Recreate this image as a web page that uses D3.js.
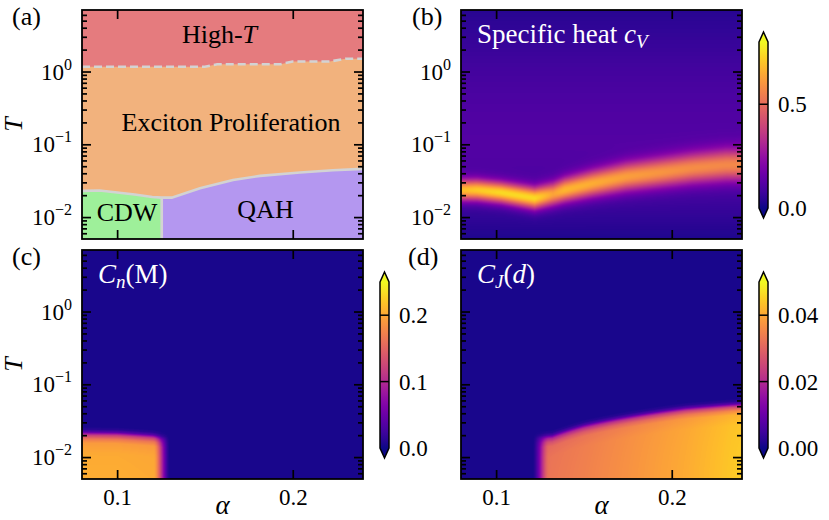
<!DOCTYPE html>
<html><head><meta charset="utf-8">
<script src="https://cdn.jsdelivr.net/npm/d3@7"></script>
<style>
body{margin:0;background:#fff}
svg{display:block}
text{font-family:"Liberation Serif","Times New Roman",serif}
</style>
</head><body>
<svg id="fig" width="829" height="520"></svg>
<script>
// ---------------- data ----------------
const alphaDomain = [0.08, 0.24];
const TDomain = [0.005, 7];
const alphaTicks = [0.1, 0.2];
const TMajorTicks = [0.01, 0.1, 1];
const TMajorExp = ["\u22122", "\u22121", "0"];

// (a) phase boundaries
const highTAlpha = [0.08, 0.150, 0.157, 0.193, 0.200, 0.221, 0.230, 0.24];
const highTT     = [1.16, 1.16, 1.26, 1.26, 1.37, 1.37, 1.50, 1.50];
const cdwAlpha = [0.08, 0.09, 0.10, 0.11, 0.12, 0.1254];
const cdwT     = [0.0229, 0.0232, 0.0218, 0.0204, 0.0189, 0.0185];
const qahAlpha = [0.1254, 0.1311, 0.1472, 0.166, 0.1814, 0.2041, 0.2229, 0.24];
const qahT     = [0.0185, 0.0185, 0.0249, 0.0324, 0.0368, 0.0409, 0.0441, 0.0459];
const alphaC = 0.1254;

// (b) specific heat: ridge position, ridge height, ridge width (decades), background vs log T
const cvAlpha = [0.08, 0.089, 0.103, 0.122, 0.1324, 0.139, 0.155, 0.174, 0.193, 0.212, 0.231, 0.24];
const cvPeakT = [0.0234, 0.0234, 0.0216, 0.0181, 0.0206, 0.0234, 0.0288, 0.0357, 0.0409, 0.0470, 0.0517, 0.0520];
const cvPeak  = [0.68, 0.71, 0.74, 0.74, 0.63, 0.67, 0.65, 0.62, 0.60, 0.58, 0.57, 0.57];
const cvWidth = [0.10, 0.10, 0.10, 0.105, 0.11, 0.115, 0.125, 0.135, 0.14, 0.145, 0.15, 0.15];
const cvBgLogT = [-2.31, -2.0, -1.5, -1.0, -0.5, 0.0, 0.5, 0.85];
const cvBg     = [0.02, 0.05, 0.10, 0.115, 0.105, 0.085, 0.055, 0.035];

// (c) C_n(M): CDW order, vanishing at cnTc
const cnAlpha = [0.08, 0.10, 0.12, 0.1254];
const cnTc    = [0.0222, 0.0219, 0.0203, 0.0193];
const cnAmp   = [0.202, 0.202, 0.20, 0.20];
const cnBase  = 0.004;

// (d) C_J(d): QAH order, vanishing at cjTc
const cjAlpha = [0.1254, 0.132, 0.15, 0.17, 0.208, 0.234, 0.24];
const cjTc    = [0.0196, 0.0201, 0.0278, 0.0348, 0.0478, 0.0535, 0.0543];
const cjAmp   = [0.031, 0.0325, 0.034, 0.036, 0.040, 0.0435, 0.044];
const cjBase  = 0.0008;

// order-parameter fall-off versus T/Tc
const orderR = [0, 0.5, 0.7, 0.8, 0.9, 0.95, 1.0, 1.08, 1.18];
const orderF = [1, 0.98, 0.93, 0.80, 0.57, 0.38, 0.17, 0.04, 0];
const edgeBlur = 0.0048;

// colorbars
const cbB = {vmax: 0.8, ticks: [0, 0.5], labels: ["0.0", "0.5"]};
const cbC = {vmax: 0.25, ticks: [0, 0.1, 0.2], labels: ["0.0", "0.1", "0.2"]};
const cbD = {vmax: 0.05, ticks: [0, 0.02, 0.04], labels: ["0.00", "0.02", "0.04"]};

// ---------------- helpers ----------------
function interp(xs, ys, v) {
  const n = xs.length;
  if (v <= xs[0]) return ys[0];
  if (v >= xs[n - 1]) return ys[n - 1];
  const i = Math.min(n - 2, d3.bisectRight(xs, v) - 1);
  const t = (v - xs[i]) / (xs[i + 1] - xs[i]);
  return ys[i] + t * (ys[i + 1] - ys[i]);
}
function smooth(t) { t = Math.max(0, Math.min(1, t)); return t * t * (3 - 2 * t); }
const L10 = a => a.map(Math.log10);
const cvPeakLT = L10(cvPeakT);

function cvValue(a, lt) {
  const lp = interp(cvAlpha, cvPeakLT, a);
  const sg = interp(cvAlpha, cvWidth, a);
  const bg = interp(cvBgLogT, cvBg, lt);
  const amp = interp(cvAlpha, cvPeak, a) - interp(cvBgLogT, cvBg, lp);
  return bg + amp * Math.exp(-0.5 * ((lt - lp) / sg) ** 2);
}
function profile(r) { return interp(orderR, orderF, r); }
function cnValue(a, lt) {
  const tc = interp(cnAlpha, cnTc, a), amp = interp(cnAlpha, cnAmp, a);
  const w = 1 - smooth((a - (alphaC - edgeBlur)) / (2 * edgeBlur));
  return cnBase + amp * profile(Math.pow(10, lt) / tc) * w;
}
function cjValue(a, lt) {
  const tc = interp(cjAlpha, cjTc, a), amp = interp(cjAlpha, cjAmp, a);
  const w = smooth((a - (alphaC - edgeBlur)) / (2 * edgeBlur));
  return cjBase + amp * profile(Math.pow(10, lt) / tc) * w;
}

// ---------------- layout ----------------
const svg = d3.select("#fig");
const FONT = '"Liberation Serif","Times New Roman",serif';
const layout = {
  a: [82, 363, 10, 239], b: [461, 742, 10, 239],
  c: [82, 363, 250, 479], d: [461, 742, 250, 479]
};
function scales(k) {
  const [x0, x1, y0, y1] = layout[k];
  return {
    x: d3.scaleLinear().domain(alphaDomain).range([x0, x1]),
    y: d3.scaleLog().domain(TDomain).range([y1, y0]),
    box: layout[k]
  };
}
const minorTicks = [];
for (let k = -3; k <= 0; k++) for (let m = 2; m <= 9; m++) {
  const v = m * Math.pow(10, k);
  if (v > TDomain[0] * 1.001 && v < TDomain[1] * 0.999) minorTicks.push(v);
}

function heat(k, fn, vmax) {
  const {x, y, box} = scales(k);
  const [x0, x1, y0, y1] = box;
  const w = Math.round(x1 - x0), h = Math.round(y1 - y0);
  const cv = document.createElement("canvas");
  cv.width = w; cv.height = h;
  const ctx = cv.getContext("2d");
  const img = ctx.createImageData(w, h);
  for (let j = 0; j < h; j++) {
    const lt = Math.log10(y.invert(y0 + j + 0.5));
    for (let i = 0; i < w; i++) {
      const a = x.invert(x0 + i + 0.5);
      const v = fn(a, lt);
      const c = d3.rgb(d3.interpolatePlasma(Math.max(0, Math.min(1, v / vmax))));
      const p = 4 * (j * w + i);
      img.data[p] = c.r; img.data[p + 1] = c.g; img.data[p + 2] = c.b; img.data[p + 3] = 255;
    }
  }
  ctx.putImageData(img, 0, 0);
  svg.append("image").attr("x", x0).attr("y", y0).attr("width", x1 - x0).attr("height", y1 - y0)
    .attr("preserveAspectRatio", "none").attr("href", cv.toDataURL());
}

function axes(k, showX, showYLabel, showYTicks) {
  const {x, y, box} = scales(k);
  const [x0, x1, y0, y1] = box;
  const g = svg.append("g");
  const mk = (axis, tr) => {
    const a = g.append("g").attr("transform", tr).call(axis);
    a.select(".domain").remove();
    a.selectAll(".tick line").attr("stroke", "#000").attr("stroke-width", 1.7);
    a.selectAll("text").attr("font-family", FONT).attr("font-size", 23).attr("fill", "#000");
    a.attr("font-family", FONT);
    return a;
  };
  mk(d3.axisBottom(x).tickValues(alphaTicks).tickSize(-9).tickPadding(10)
      .tickFormat(showX ? d3.format(".1f") : () => ""), `translate(0,${y1})`);
  mk(d3.axisTop(x).tickValues(alphaTicks).tickSize(-9).tickFormat(() => ""), `translate(0,${y0})`);
  mk(d3.axisLeft(y).tickValues(TMajorTicks).tickSize(-9).tickFormat(() => ""), `translate(${x0},0)`);
  mk(d3.axisLeft(y).tickValues(minorTicks).tickSize(-5).tickFormat(() => ""), `translate(${x0},0)`);
  mk(d3.axisRight(y).tickValues(TMajorTicks).tickSize(-9).tickFormat(() => ""), `translate(${x1},0)`);
  mk(d3.axisRight(y).tickValues(minorTicks).tickSize(-5).tickFormat(() => ""), `translate(${x1},0)`);
  if (showYTicks) {
    TMajorTicks.forEach((v, i) => {
      const t = g.append("text").attr("x", x0 - 10).attr("y", y(v) + 8)
        .attr("text-anchor", "end").attr("font-size", 23).attr("font-family", FONT);
      t.append("tspan").text("10");
      t.append("tspan").attr("dy", -10).attr("font-size", 16).text(TMajorExp[i]);
    });
  }
  g.append("rect").attr("x", x0).attr("y", y0).attr("width", x1 - x0).attr("height", y1 - y0)
    .attr("fill", "none").attr("stroke", "#000").attr("stroke-width", 1.8);
  if (showYLabel) {
    g.append("text").attr("transform", `translate(22,${(y0 + y1) / 2}) rotate(-90)`)
      .attr("text-anchor", "middle").attr("font-size", 26).attr("font-style", "italic")
      .attr("font-family", FONT).text("T");
  }
  if (showX) {
    g.append("text").attr("x", (x0 + x1) / 2).attr("y", 514).attr("text-anchor", "middle")
      .attr("font-size", 27).attr("font-style", "italic").attr("font-family", FONT).text("\u03b1");
  }
}

let gradN = 0;
function colorbar(k, cb) {
  const [x0, x1, y0, y1] = layout[k];
  const bx = x1 + 17, bw = 9, top = y0 + 32, bottom = y1 - 31, tri = 10;
  const s = d3.scaleLinear().domain([0, cb.vmax]).range([bottom, top]);
  const id = "grad" + (gradN++);
  const lg = svg.append("defs").append("linearGradient").attr("id", id)
    .attr("x1", 0).attr("y1", 1).attr("x2", 0).attr("y2", 0);
  d3.range(0, 1.0001, 0.05).forEach(t => lg.append("stop").attr("offset", t).attr("stop-color", d3.interpolatePlasma(t)));
  svg.append("rect").attr("x", bx).attr("y", top).attr("width", bw).attr("height", bottom - top).attr("fill", `url(#${id})`);
  svg.append("path").attr("d", `M${bx},${top}L${bx + bw / 2},${top - tri}L${bx + bw},${top}Z`).attr("fill", d3.interpolatePlasma(1));
  svg.append("path").attr("d", `M${bx},${bottom}L${bx + bw / 2},${bottom + tri}L${bx + bw},${bottom}Z`).attr("fill", d3.interpolatePlasma(0));
  cb.ticks.forEach((t, i) => {
    if (t > 0) svg.append("line").attr("x1", bx).attr("x2", bx + bw).attr("y1", s(t)).attr("y2", s(t))
      .attr("stroke", "#000").attr("stroke-width", 1.5);
    svg.append("text").attr("x", bx + bw + 10).attr("y", s(t) + 8).attr("font-size", 23)
      .attr("font-family", FONT).text(cb.labels[i]);
  });
  svg.append("path").attr("d",
    `M${bx},${top}L${bx + bw / 2},${top - tri}L${bx + bw},${top}L${bx + bw},${bottom}L${bx + bw / 2},${bottom + tri}L${bx},${bottom}Z`)
    .attr("fill", "none").attr("stroke", "#000").attr("stroke-width", 1.5);
}

// ---------------- panel (a) ----------------
(function () {
  const {x, y, box} = scales("a");
  const [x0, x1, y0, y1] = box;
  svg.append("rect").attr("x", x0).attr("y", y0).attr("width", x1 - x0).attr("height", y1 - y0).attr("fill", "#f2b27d");
  const hi = highTAlpha.map((a, i) => [a, highTT[i]]);
  const cdw = cdwAlpha.map((a, i) => [a, cdwT[i]]);
  const qah = qahAlpha.map((a, i) => [a, qahT[i]]);
  const areaTop = d3.area().x(d => x(d[0])).y0(y(TDomain[1])).y1(d => y(d[1]));
  const areaBot = d3.area().x(d => x(d[0])).y0(y(TDomain[0])).y1(d => y(d[1]));
  svg.append("path").datum(hi).attr("d", areaTop).attr("fill", "#e57b7e");
  svg.append("path").datum(cdw).attr("d", areaBot).attr("fill", "#9ef09a");
  svg.append("path").datum(qah).attr("d", areaBot).attr("fill", "#b497f0");
  const line = d3.line().x(d => x(d[0])).y(d => y(d[1]));
  svg.append("path").datum(cdw.concat(qah.slice(1))).attr("d", line)
    .attr("fill", "none").attr("stroke", "#d3d3d3").attr("stroke-width", 2.6);
  svg.append("path").datum([[alphaC, TDomain[0]], [alphaC, cdwT[cdwT.length - 1]]]).attr("d", line)
    .attr("fill", "none").attr("stroke", "#d3d3d3").attr("stroke-width", 2.6);
  svg.append("path").datum(hi).attr("d", line)
    .attr("fill", "none").attr("stroke", "#d3d3d3").attr("stroke-width", 2.6).attr("stroke-dasharray", "8,4");
  const lab = (tx, ty, str) => svg.append("text").attr("x", tx).attr("y", ty).attr("text-anchor", "middle")
    .attr("font-size", 26).attr("font-family", FONT).text(str);
  const h = lab(219.5, 43, "High-");
  h.append("tspan").attr("font-style", "italic").text("T");
  lab(231, 130.5, "Exciton Proliferation");
  lab(127, 221, "CDW");
  lab(265.5, 217.5, "QAH");
  axes("a", false, true, true);
})();

// ---------------- panels (b)-(d) ----------------
heat("b", cvValue, cbB.vmax);
heat("c", cnValue, cbC.vmax);
heat("d", cjValue, cbD.vmax);
axes("b", false, false, true);
axes("c", true, true, true);
axes("d", true, false, false);
colorbar("b", cbB);
colorbar("c", cbC);
colorbar("d", cbD);

// in-panel labels
(function () {
  const t1 = svg.append("text").attr("x", 477).attr("y", 43).attr("font-size", 27).attr("fill", "#fff").attr("font-family", FONT);
  t1.append("tspan").text("Specific heat ");
  t1.append("tspan").attr("font-style", "italic").text("c");
  t1.append("tspan").attr("font-style", "italic").attr("font-size", 19).attr("dy", 5).text("V");
  const t2 = svg.append("text").attr("x", 98).attr("y", 283).attr("font-size", 27).attr("fill", "#fff").attr("font-family", FONT);
  t2.append("tspan").attr("font-style", "italic").text("C");
  t2.append("tspan").attr("font-style", "italic").attr("font-size", 19).attr("dy", 5).text("n");
  t2.append("tspan").attr("dy", -5).text("(M)");
  const t3 = svg.append("text").attr("x", 477).attr("y", 283).attr("font-size", 27).attr("fill", "#fff").attr("font-family", FONT);
  t3.append("tspan").attr("font-style", "italic").text("C");
  t3.append("tspan").attr("font-style", "italic").attr("font-size", 19).attr("dy", 5).text("J");
  t3.append("tspan").attr("dy", -5).text("(");
  t3.append("tspan").attr("font-style", "italic").text("d");
  t3.append("tspan").text(")");
  const pl = (tx, ty, s) => svg.append("text").attr("x", tx).attr("y", ty).attr("font-size", 26).attr("font-family", FONT).text(s);
  pl(12, 25, "(a)"); pl(412, 25, "(b)"); pl(12, 265, "(c)"); pl(408, 265, "(d)");
})();
</script>
</body></html>
